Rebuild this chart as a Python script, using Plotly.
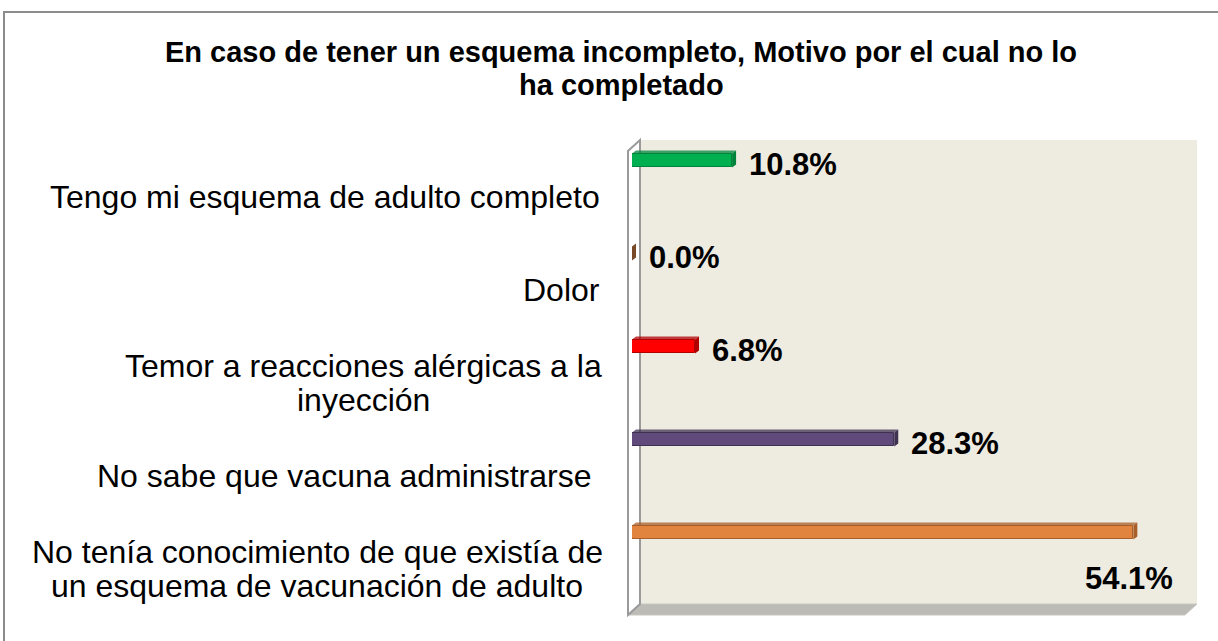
import plotly.graph_objects as go

# ---- data ----
categories = [
    "Tengo mi esquema de adulto completo",
    "Dolor",
    "Temor a reacciones alérgicas a la<br>inyección",
    "No sabe que vacuna administrarse\u00a0",
    "No tenía conocimiento de que existía de<br>un esquema de vacunación de adulto",
]
values = [10.8, 0.0, 6.8, 28.3, 54.1]
value_labels = ["10.8%", "0.0%", "6.8%", "28.3%", "54.1%"]
title_lines = ["En caso de tener un esquema incompleto, Motivo por el cual no lo",
               "ha completado"]

# ---- style ----
colors = ["#00B050", "#A8683A", "#FF0000", "#5F4A7B", "#E0843F"]
side_colors = ["#00843C", "#7A4A28", "#B00000", "#3F3152", "#A85E28"]
multi_line_centers = {2: 363, 4: 317}   # pixel centre of two-line labels
W, H = 1218, 641
L, R, T, B = 632, 30, 150, 26          # plot area in pixels
PW, PH = W - L - R, H - T - B
XMAX = 60
FONT = "Liberation Sans, Arial, sans-serif"

def px(x):  # pixel x -> paper
    return (x - L) / PW

def py(y):  # pixel y -> paper
    return (H - B - y) / PH

n = len(categories)
bar_w = 0.15
bar_center_shift = 0.387            # bars drawn towards the back (up)
fig = go.Figure()
fig.add_trace(go.Bar(
    y=categories, x=values, orientation="h",
    marker=dict(color=colors, line=dict(color=side_colors, width=1)),
    width=bar_w, offset=-bar_center_shift - bar_w / 2,
    hoverinfo="skip", showlegend=False,
))

shapes = []
# 3D walls
dx, dy = 12, 11
front_bottom = H - B
back_bottom = front_bottom - dy
shapes.append(dict(type="path", xref="paper", yref="paper", layer="below",
    path=f"M{px(628+dx)},{py(140)} L{px(1197)},{py(140)} L{px(1197)},{py(back_bottom)} L{px(628+dx)},{py(back_bottom)} Z",
    fillcolor="#EEEBE1", line=dict(width=0)))
# floor
shapes.append(dict(type="path", xref="paper", yref="paper", layer="below",
    path=f"M{px(628)},{py(front_bottom)} L{px(628+dx)},{py(back_bottom)} L{px(1197)},{py(back_bottom)} L{px(1197-dx)},{py(front_bottom)} Z",
    fillcolor="#BDBBB5", line=dict(color="#C8C6C0", width=1)))
# left wall
shapes.append(dict(type="path", xref="paper", yref="paper", layer="below",
    path=f"M{px(628)},{py(140+dy)} L{px(628+dx)},{py(140)} L{px(628+dx)},{py(back_bottom)} L{px(628)},{py(front_bottom)} Z",
    fillcolor="#FFFFFF", line=dict(color="#9A9A9A", width=2)))

# 3D side / top faces of bars (from data values)
ux = XMAX / PW       # data units per pixel
for i, v in enumerate(values):
    c_px = T + (i + 0.5) * PH / n - bar_center_shift * PH / n
    top = c_px - bar_w / 2 * PH / n
    bot = c_px + bar_w / 2 * PH / n
    d = 4
    shapes.append(dict(type="path", xref="x", yref="paper", layer="above",
        path=f"M{v},{py(top)} L{v + d*ux},{py(top-3)} L{v + d*ux},{py(bot-3)} L{v},{py(bot)} Z",
        fillcolor=side_colors[i], line=dict(width=0)))
    shapes.append(dict(type="path", xref="x", yref="paper", layer="above",
        path=f"M0,{py(top)} L{d*ux},{py(top-3)} L{v + d*ux},{py(top-3)} L{v},{py(top)} Z",
        fillcolor=side_colors[i], opacity=0.75, line=dict(width=0)))

# outer chart border
shapes.append(dict(type="rect", xref="paper", yref="paper", layer="below",
    x0=px(4), x1=px(1240), y0=py(12), y1=py(700),
    line=dict(color="#8C8C8C", width=2), fillcolor="rgba(0,0,0,0)"))

annotations = []
cat_font = dict(family=FONT, size=32, color="#000000")
# category labels
for i, cat in enumerate(categories):
    lines = cat.split("<br>")
    if len(lines) == 1:
        annotations.append(dict(xref="paper", yref="y", x=px(602), y=cat,
            text=cat, showarrow=False, xanchor="right", yanchor="middle",
            font=cat_font))
    else:
        for k, line in enumerate(lines):
            annotations.append(dict(xref="paper", yref="y", x=px(multi_line_centers[i]), y=cat,
                text=line, showarrow=False, xanchor="center", yanchor="middle",
                yshift=17 - 34 * k, font=cat_font))
# value labels
val_font = dict(family=FONT, size=31, color="#000000")
for i, (cat, v, lab) in enumerate(zip(categories, values, value_labels)):
    if i == n - 1:
        annotations.append(dict(xref="x", yref="y", x=v, y=cat, text=f"<b>{lab}</b>",
            showarrow=False, xanchor="center", yanchor="middle", xshift=-4, yshift=-10,
            font=val_font))
    else:
        annotations.append(dict(xref="x", yref="y", x=v, y=cat, text=f"<b>{lab}</b>",
            showarrow=False, xanchor="left", yanchor="middle", xshift=15, yshift=32,
            font=val_font))
# title
for k, (line, ypix) in enumerate(zip(title_lines, [52, 85])):
    annotations.append(dict(xref="paper", yref="paper", x=px(621), y=py(ypix),
        text=f"<b>{line}</b>", showarrow=False, xanchor="center", yanchor="middle",
        font=dict(family=FONT, size=29, color="#000000")))

fig.update_layout(
    width=W, height=H,
    margin=dict(l=L, r=R, t=T, b=B),
    paper_bgcolor="#FFFFFF", plot_bgcolor="rgba(0,0,0,0)",
    xaxis=dict(range=[0, XMAX], showgrid=False, zeroline=False, showticklabels=False,
               showline=False, ticks=""),
    yaxis=dict(categoryorder="array", categoryarray=categories, autorange="reversed",
               showgrid=False, zeroline=False, showticklabels=False, showline=False, ticks=""),
    shapes=shapes, annotations=annotations,
    bargap=0,
)

fig.write_html("out.html", config={"displayModeBar": False},
               post_script="document.body.style.margin='0px';")
